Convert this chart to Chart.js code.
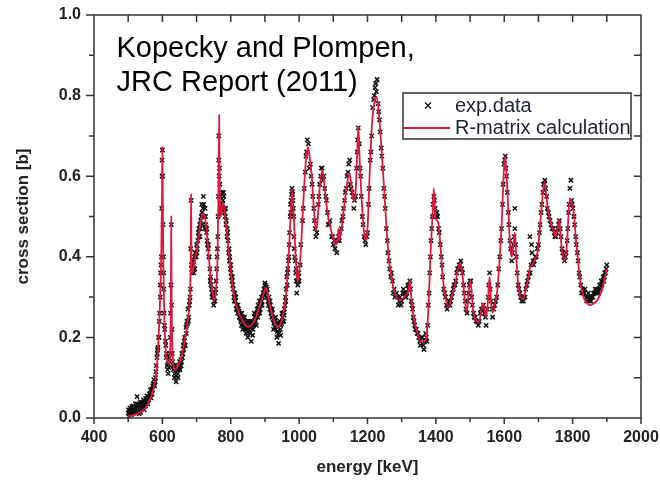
<!DOCTYPE html>
<html>
<head>
<meta charset="utf-8">
<title>Cross section vs energy</title>
<script src="https://cdn.jsdelivr.net/npm/chart.js@4.4.1/dist/chart.umd.min.js"></script>
<style>
  html, body { margin: 0; padding: 0; background: #fff; }
  #wrap { width: 660px; height: 481px; position: relative; }
</style>
</head>
<body>
<div id="wrap"><canvas id="xs-chart"></canvas></div>
<script>
// tick labels
const xTickLabels = ['400', '600', '800', '1000', '1200', '1400', '1600', '1800', '2000'];
const yTickLabels = ['0.0', '0.2', '0.4', '0.6', '0.8', '1.0'];

// R-matrix calculation, [energy keV, cross section b]
const calcCurve = [
  [500,.004],[520,.008],[540,.016],[555,.030],[565,.048],[575,.075],[583,.12],[588,.18],[592,.26],[595,.34],
  [597,.42],[599,.56],[600,.672],[601,.56],[603,.38],[606,.24],[610,.165],[615,.14],[620,.135],[623,.17],
  [625,.30],[626,.50],[627,.30],[629,.18],[632,.135],[637,.12],[645,.128],[655,.15],[665,.19],[675,.25],
  [681,.31],[683,.40],[684,.555],[685,.40],[688,.36],[695,.39],[705,.44],[713,.49],[720,.508],[726,.49],
  [732,.44],[740,.36],[747,.31],[752,.29],[757,.32],[761,.39],[764,.55],[766,.752],[768,.55],[771,.50],
  [775,.525],[779,.532],[784,.50],[790,.45],[798,.38],[808,.31],[820,.27],[835,.24],[851,.226],[865,.235],
  [880,.265],[893,.30],[903,.322],[912,.29],[920,.26],[930,.235],[940,.226],[950,.245],[958,.28],[965,.34],
  [971,.43],[976,.52],[980,.566],[984,.51],[988,.43],[993,.36],[996,.338],[1000,.36],[1006,.43],[1012,.53],
  [1019,.63],[1026,.673],[1032,.64],[1037,.60],[1043,.52],[1049,.466],[1054,.49],[1060,.57],[1068,.615],[1075,.57],
  [1082,.516],[1092,.47],[1102,.44],[1108,.43],[1112,.44],[1115,.47],[1118,.44],[1124,.47],[1131,.52],[1140,.58],
  [1147,.607],[1154,.57],[1160,.54],[1165,.56],[1170,.66],[1173,.723],[1177,.64],[1183,.54],[1190,.46],[1195,.442],
  [1200,.47],[1207,.62],[1214,.74],[1222,.79],[1227,.797],[1233,.76],[1240,.68],[1247,.59],[1255,.48],[1262,.40],
  [1270,.35],[1280,.31],[1292,.292],[1302,.295],[1312,.305],[1320,.315],[1324,.34],[1328,.30],[1335,.25],[1345,.215],
  [1355,.19],[1365,.19],[1372,.20],[1378,.27],[1384,.40],[1390,.50],[1394,.57],[1398,.50],[1403,.49],[1408,.48],
  [1414,.42],[1420,.35],[1428,.30],[1437,.276],[1446,.30],[1456,.33],[1465,.37],[1471,.384],[1477,.36],[1484,.30],
  [1490,.262],[1495,.30],[1500,.342],[1504,.32],[1509,.265],[1516,.245],[1524,.238],[1531,.255],[1537,.285],[1542,.27],
  [1547,.25],[1553,.30],[1557,.35],[1561,.29],[1566,.262],[1572,.28],[1580,.32],[1587,.40],[1593,.49],[1598,.60],
  [1602,.648],[1607,.60],[1612,.516],[1617,.43],[1622,.40],[1627,.43],[1631,.46],[1635,.40],[1641,.33],[1648,.30],
  [1656,.295],[1663,.32],[1670,.345],[1676,.375],[1683,.38],[1690,.395],[1697,.41],[1703,.46],[1710,.53],[1717,.585],
  [1722,.56],[1729,.51],[1737,.48],[1744,.465],[1750,.45],[1756,.47],[1761,.49],[1766,.44],[1772,.40],[1778,.39],
  [1784,.44],[1789,.52],[1793,.545],[1798,.53],[1803,.51],[1810,.44],[1817,.38],[1824,.33],[1832,.30],[1842,.285],
  [1851,.28],[1860,.283],[1870,.29],[1880,.305],[1890,.33],[1900,.37]
];

// experimental points, [energy keV, cross section b]
const expData = [
  [500,.012],[505,.025],[510,.008],[515,.030],[520,.015],[525,.035],[526,.053],[530,.020],[535,.040],[540,.025],
  [545,.045],[550,.030],[555,.055],[560,.045],[565,.070],[570,.060],[575,.095],[580,.100],[585,.160],[590,.200],
  [595,.360],[597,.400],[598,.520],[600,.665],[601,.600],[603,.400],[605,.260],[610,.180],[615,.120],[620,.150],
  [623,.200],[625,.330],[626,.480],[627,.280],[630,.140],[635,.100],[640,.090],[645,.110],[650,.140],[655,.130],
  [660,.160],[665,.200],[670,.210],[675,.270],[680,.290],[683,.420],[684,.540],[685,.380],[690,.390],[695,.370],
  [700,.430],[705,.460],[710,.450],[715,.530],[720,.550],[725,.520],[730,.470],[735,.430],[740,.340],[745,.300],
  [750,.280],[755,.310],[760,.400],[763,.500],[765,.640],[767,.620],[770,.550],[775,.560],[780,.550],[785,.520],
  [790,.470],[795,.420],[800,.380],[805,.350],[810,.290],[815,.300],[820,.260],[825,.250],[830,.240],[835,.220],
  [840,.250],[845,.210],[850,.200],[855,.240],[860,.190],[865,.220],[870,.250],[875,.230],[880,.280],[885,.260],
  [890,.300],[895,.310],[900,.335],[905,.300],[910,.280],[915,.290],[920,.250],[925,.220],[930,.240],[935,.200],
  [940,.185],[945,.220],[950,.260],[955,.240],[960,.300],[965,.330],[970,.400],[975,.530],[978,.555],[980,.560],
  [983,.520],[985,.450],[990,.360],[993,.310],[996,.330],[1000,.340],
  [502,.004],[507,.018],[512,.022],[517,.012],[522,.028],[532,.010],[537,.022],[542,.038],[547,.020],[552,.042],
  [557,.035],[562,.060],[567,.050],[572,.080],[577,.080],[582,.130],[587,.175],[592,.260],[596,.380],[599,.600],
  [602,.480],[604,.320],[607,.220],[612,.160],[617,.110],[622,.160],[632,.120],[637,.130],[642,.105],[647,.120],
  [652,.120],[657,.160],[662,.170],[667,.180],[672,.240],[677,.250],[682,.320],[687,.360],[692,.360],[697,.400],
  [702,.420],[707,.470],[712,.490],[717,.480],[722,.500],[727,.480],[732,.430],[737,.400],[742,.330],[747,.310],
  [752,.290],[757,.340],[762,.450],[766,.600],[768,.580],[772,.520],[777,.540],[782,.510],[787,.490],[792,.440],
  [797,.400],[802,.350],[807,.320],[812,.310],[817,.280],[822,.270],[827,.250],[832,.260],[837,.230],[842,.220],
  [847,.240],[852,.230],[857,.210],[862,.240],[867,.230],[872,.240],[877,.270],[882,.260],[887,.290],[892,.280],
  [897,.320],[902,.310],[907,.320],[912,.300],[917,.260],[922,.270],[927,.240],[932,.220],[937,.230],[942,.210],
  [947,.230],[952,.240],[957,.270],[962,.320],[967,.370],[972,.460],[977,.540],[982,.540],[987,.400],[992,.340],
  [998,.350],
  [504,.014],[509,.020],[514,.016],[519,.022],[524,.018],[529,.030],[534,.026],[539,.030],[544,.032],[549,.036],
  [554,.048],[559,.052],[564,.058],[569,.072],[574,.085],[579,.090],[584,.150],[589,.200],[594,.300],[604,.360],
  [609,.190],[614,.130],[619,.125],[624,.260],[629,.160],[634,.130],[639,.105],[644,.125],[649,.125],[654,.145],
  [659,.150],[664,.190],[669,.225],[674,.235],[679,.280],[689,.370],[694,.400],[699,.400],[704,.440],[709,.480],
  [714,.500],[719,.520],[724,.470],[729,.460],[734,.420],[739,.370],[744,.320],[749,.300],[754,.290],[759,.370],
  [764,.550],[769,.520],[774,.530],[779,.560],[784,.500],[789,.450],[794,.410],[799,.370],[804,.340],[809,.300],
  [814,.290],[819,.270],[824,.265],[829,.245],[834,.245],[839,.225],[844,.235],[849,.215],[854,.225],[859,.225],
  [864,.205],[869,.260],[874,.250],[879,.250],[884,.290],[889,.280],[894,.300],[899,.320],[904,.325],[909,.290],
  [914,.270],[919,.270],[924,.245],[929,.225],[934,.235],[939,.210],[944,.240],[949,.235],[954,.260],[959,.280],
  [964,.350],[969,.390],[974,.500],[979,.570],[984,.500],[989,.390],[994,.340],[999,.360],
  [501,.020],[506,.010],[511,.028],[516,.018],[521,.035],[527,.022],[531,.032],[536,.014],[541,.032],[546,.028],
  [551,.048],[556,.040],[561,.050],[566,.058],[571,.070],[576,.085],[581,.115],[586,.170],[591,.240],[594,.330],
  [599,.640],[606,.230],[611,.150],[616,.135],[621,.140],[628,.220],[631,.130],[636,.110],[641,.120],[646,.100],
  [651,.130],[656,.140],[661,.180],[666,.180],[671,.230],[676,.240],[681,.300],[686,.370],[691,.380],[696,.410],
  [701,.410],[706,.450],[711,.470],[716,.510],[721,.530],[726,.500],[731,.440],[736,.400],[741,.350],[746,.310],
  [751,.300],[756,.320],[761,.420],[765,.700],[771,.510],[776,.530],[781,.520],[786,.480],[791,.460],[796,.390],
  [801,.360],[806,.330],[811,.310],[816,.270],[821,.280],[826,.260],[831,.230],[836,.250],[841,.235],[846,.220],
  [851,.240],[856,.215],[861,.230],[866,.240],[871,.235],[876,.260],[881,.270],[886,.270],[891,.290],[896,.305],
  [901,.330],[906,.310],[911,.290],[916,.280],[921,.260],[926,.235],[931,.250],[936,.215],[941,.235],[946,.205],
  [951,.250],[956,.255],[961,.290],[966,.360],[971,.430],[976,.510],[981,.555],[986,.420],[991,.370],[996,.350],
  [1005,.43],[1010,.49],[1015,.57],[1020,.65],[1024,.69],[1027,.68],[1030,.62],[1035,.60],[1040,.55],[1045,.49],
  [1049,.45],[1052,.46],[1056,.53],[1060,.58],[1065,.62],[1070,.59],[1075,.57],[1080,.54],[1085,.48],[1090,.49],
  [1095,.45],[1100,.43],[1105,.42],[1110,.41],[1115,.45],[1120,.46],[1125,.49],[1130,.52],[1135,.56],[1140,.60],
  [1145,.63],[1148,.64],[1150,.58],[1155,.56],[1160,.52],[1165,.55],[1170,.66],[1173,.72],[1176,.68],[1180,.60],
  [1185,.50],[1190,.45],[1195,.43],[1200,.46],[1205,.57],[1210,.66],[1215,.77],[1220,.80],[1224,.83],[1228,.84],
  [1231,.78],[1235,.74],[1240,.67],[1245,.62],[1250,.55],[1255,.47],[1260,.41],[1265,.37],[1270,.36],[1275,.31],
  [1280,.30],[1285,.31],[1290,.28],[1295,.30],[1300,.29],[1305,.32],[1310,.30],[1315,.31],[1320,.32],[1324,.34],
  [1328,.29],[1332,.27],[1336,.24],[1340,.22],[1345,.21],[1350,.20],[1355,.18],[1360,.20],[1365,.17],[1370,.21],
  [1374,.19],[1378,.28],[1382,.36],[1386,.44],[1390,.50],[1394,.55],[1398,.52],[1403,.51],[1408,.47],[1413,.43],
  [1418,.38],[1423,.32],[1428,.30],[1433,.27],[1438,.29],[1443,.29],[1448,.31],[1453,.33],[1458,.34],[1463,.37],
  [1468,.38],[1473,.39],[1478,.36],[1483,.31],[1488,.27],[1493,.29],[1498,.33],[1502,.34],[1507,.28],[1512,.25],
  [1518,.24],[1524,.23],[1530,.26],[1536,.27],[1542,.26],[1547,.23],[1553,.30],[1557,.36],[1561,.29],[1566,.25],
  [1572,.28],[1578,.30],[1584,.37],[1590,.44],[1595,.53],[1599,.63],[1603,.65],[1607,.60],[1612,.51],[1617,.44],
  [1622,.39],[1627,.43],[1631,.47],[1631,.52],[1635,.40],[1641,.33],[1646,.31],[1651,.29],[1656,.29],[1661,.30],
  [1666,.33],[1671,.35],[1675,.45],[1676,.36],[1680,.43],[1681,.41],[1686,.38],[1691,.40],[1697,.42],[1703,.46],
  [1708,.51],[1713,.56],[1717,.58],[1721,.57],[1726,.52],[1731,.50],[1737,.48],[1743,.47],[1748,.45],[1754,.46],
  [1759,.48],[1764,.47],[1769,.42],[1774,.40],[1779,.40],[1784,.44],[1788,.51],[1792,.57],[1795,.59],[1799,.53],
  [1804,.50],[1809,.45],[1814,.41],[1819,.36],[1824,.33],[1829,.32],[1834,.31],[1839,.30],[1844,.30],[1849,.29],
  [1854,.29],[1859,.30],[1864,.31],[1869,.32],[1874,.32],[1879,.33],[1884,.34],[1889,.35],[1894,.36],[1898,.37],
  [1826,.31],[1836,.32],[1846,.31],[1856,.30],[1866,.32],[1876,.31],[1886,.33],[1893,.35],[1900,.38],
  [1003,.38],[1012,.52],[1018,.61],[1022,.66],[1033,.63],[1038,.58],[1043,.52],[1047,.47],[1058,.55],[1063,.60],
  [1067,.62],[1072,.60],[1078,.55],[1083,.51],[1088,.48],[1098,.45],[1103,.44],[1113,.44],[1118,.44],[1123,.47],
  [1128,.50],[1133,.54],[1138,.57],[1143,.61],[1152,.57],[1158,.55],[1162,.54],[1168,.62],[1171,.69],[1178,.62],
  [1182,.55],[1187,.48],[1193,.44],[1198,.45],[1203,.53],[1208,.64],[1212,.70],[1218,.79],[1222,.82],[1226,.81],
  [1233,.76],[1237,.71],[1242,.65],[1248,.57],[1252,.52],[1258,.44],[1263,.39],[1268,.35],[1273,.34],[1278,.32],
  [1288,.30],[1293,.29],[1298,.28],[1303,.31],[1308,.31],[1313,.30],[1318,.33],[1322,.33],[1326,.32],[1330,.28],
  [1334,.25],[1338,.23],[1343,.22],[1348,.21],[1353,.19],[1358,.20],[1363,.18],[1368,.19],[1372,.20],[1376,.23],
  [1380,.31],[1384,.40],[1388,.47],[1392,.53],[1396,.54],[1400,.50],[1405,.50],[1410,.46],[1416,.40],[1420,.35],
  [1426,.31],[1431,.28],[1436,.28],[1441,.28],[1446,.30],[1451,.32],[1456,.33],[1461,.36],[1466,.37],[1471,.38],
  [1476,.37],[1481,.33],[1486,.29],[1491,.26],[1496,.31],[1500,.34],[1505,.30],[1510,.26],[1515,.25],[1521,.24],
  [1527,.24],[1533,.27],[1539,.28],[1545,.25],[1550,.27],[1555,.33],[1559,.32],[1564,.27],[1569,.27],[1575,.29],
  [1581,.33],[1587,.40],[1592,.47],[1597,.58],[1601,.64],[1605,.62],[1609,.56],[1614,.48],[1619,.42],[1624,.41],
  [1629,.45],[1633,.43],[1638,.36],[1643,.32],[1648,.30],[1653,.30],[1658,.30],[1663,.32],[1668,.34],[1673,.36],
  [1678,.38],[1684,.39],[1688,.39],[1694,.40],[1700,.43],[1705,.48],[1710,.53],[1715,.58],[1719,.59],[1724,.55],
  [1729,.51],[1734,.49],[1740,.47],[1746,.46],[1751,.45],[1756,.47],[1761,.49],[1766,.45],[1771,.41],[1776,.39],
  [1781,.41],[1786,.47],[1790,.53],[1797,.54],[1801,.52],[1806,.48],[1811,.43],[1816,.39],[1821,.35],[1831,.31],
  [1841,.29],[1851,.30],[1861,.31],[1871,.31],[1881,.32],[1891,.34],[1896,.36]
];

const FONT = "'Liberation Sans', Arial, sans-serif";
const CURVE_RED = '#e0173f';

// frame, minor ticks, annotation and legend box drawn on top of the plot
const decorations = {
    id: 'decorations',
    afterDatasetsDraw(chart) {
        const { ctx, chartArea: a, scales: { x, y } } = chart;
        ctx.save();

        // axis frame + ticks
        ctx.strokeStyle = '#333';
        ctx.lineWidth = 1.5;
        ctx.strokeRect(a.left, a.top, a.right - a.left, a.bottom - a.top);
        ctx.beginPath();
        for (let e = 400; e <= 2000; e += 100) {
            const px = x.getPixelForValue(e);
            ctx.moveTo(px, a.bottom);
            ctx.lineTo(px, a.bottom + (e % 200 === 0 ? 6 : 4));
            if (e > 400 && e < 2000) {
                ctx.moveTo(px, a.top);
                ctx.lineTo(px, a.top + 7);
            }
        }
        for (let i = 0; i <= 10; i++) {
            const py = y.getPixelForValue(i / 10);
            ctx.moveTo(a.left, py);
            ctx.lineTo(a.left - (i % 2 === 0 ? 8 : 5), py);
            if (i > 0 && i < 10) {
                ctx.moveTo(a.right, py);
                ctx.lineTo(a.right - 7, py);
            }
        }
        ctx.stroke();

        // source note
        ctx.fillStyle = '#000';
        ctx.font = '29px ' + FONT;
        ctx.textAlign = 'left';
        ctx.textBaseline = 'alphabetic';
        ctx.fillText('Kopecky and Plompen,', a.left + 22.5, 57);
        ctx.fillText('JRC Report (2011)', a.left + 22.5, 91);

        // legend
        const bx = a.right - 238, by = 93, bw = 228, bh = 46;
        ctx.fillStyle = '#fff';
        ctx.fillRect(bx, by, bw, bh);
        ctx.strokeStyle = '#333';
        ctx.lineWidth = 1.5;
        ctx.strokeRect(bx, by, bw, bh);

        ctx.strokeStyle = '#111';
        ctx.lineWidth = 1.3;
        ctx.beginPath();
        ctx.moveTo(bx + 22, by + 9.5); ctx.lineTo(bx + 28, by + 15.5);
        ctx.moveTo(bx + 28, by + 9.5); ctx.lineTo(bx + 22, by + 15.5);
        ctx.stroke();

        ctx.strokeStyle = CURVE_RED;
        ctx.lineWidth = 1.8;
        ctx.beginPath();
        ctx.moveTo(bx + 1, by + 35); ctx.lineTo(bx + 47, by + 35);
        ctx.stroke();

        ctx.fillStyle = '#1e2233';
        ctx.font = '20px ' + FONT;
        ctx.fillText('exp.data', bx + 52, by + 19);
        ctx.fillText('R-matrix calculation', bx + 52, by + 41);
        ctx.restore();
    }
};

Chart.defaults.font.family = FONT;

const ctx = document.getElementById('xs-chart').getContext('2d');
const xsChart = new Chart(ctx, {
    type: 'scatter',
    data: {
        datasets: [{
            label: 'R-matrix calculation',
            data: calcCurve.map(([e, s]) => ({ x: e, y: s })),
            showLine: true,
            borderColor: CURVE_RED,
            borderWidth: 1.8,
            pointRadius: 0,
            cubicInterpolationMode: 'monotone',
            order: 0
        }, {
            label: 'exp.data',
            data: expData.map(([e, s]) => ({ x: e, y: s })),
            pointStyle: 'crossRot',
            pointRadius: 3,
            borderWidth: 1.5,
            borderColor: '#111',
            backgroundColor: '#111',
            order: 1
        }]
    },
    options: {
        responsive: true,
        maintainAspectRatio: false,
        animation: false,
        events: [],
        layout: { padding: { left: 0, right: 19, top: 15, bottom: 0 } },
        plugins: {
            legend: { display: false },
            tooltip: { enabled: false }
        },
        scales: {
            x: {
                type: 'linear',
                min: 400,
                max: 2000,
                afterFit: (scale) => {
                    scale.height = 63;
                    scale.paddingLeft = 0;
                    scale.paddingRight = 0;
                },
                grid: { display: false, drawTicks: false },
                border: { display: false },
                ticks: {
                    stepSize: 200,
                    autoSkip: false,
                    maxRotation: 0,
                    padding: 10,
                    color: '#222',
                    font: { size: 16, weight: 'bold' },
                    callback: (v) => xTickLabels[Math.round((v - 400) / 200)]
                },
                title: {
                    display: true,
                    text: 'energy [keV]',
                    color: '#222',
                    font: { size: 17, weight: 'bold' },
                    padding: { top: 0, bottom: 3 }
                }
            },
            y: {
                min: 0,
                max: 1,
                afterFit: (scale) => {
                    scale.width = 94;
                    scale.paddingTop = 0;
                    scale.paddingBottom = 0;
                },
                grid: { display: false, drawTicks: false },
                border: { display: false },
                ticks: {
                    stepSize: 0.2,
                    padding: 13,
                    color: '#222',
                    font: { size: 16, weight: 'bold' },
                    callback: (v) => yTickLabels[Math.round(v * 5)]
                },
                title: {
                    display: true,
                    text: 'cross section [b]',
                    color: '#222',
                    font: { size: 17, weight: 'bold' },
                    padding: { top: 13, bottom: 0 }
                }
            }
        }
    },
    plugins: [decorations]
});
</script>
</body>
</html>
